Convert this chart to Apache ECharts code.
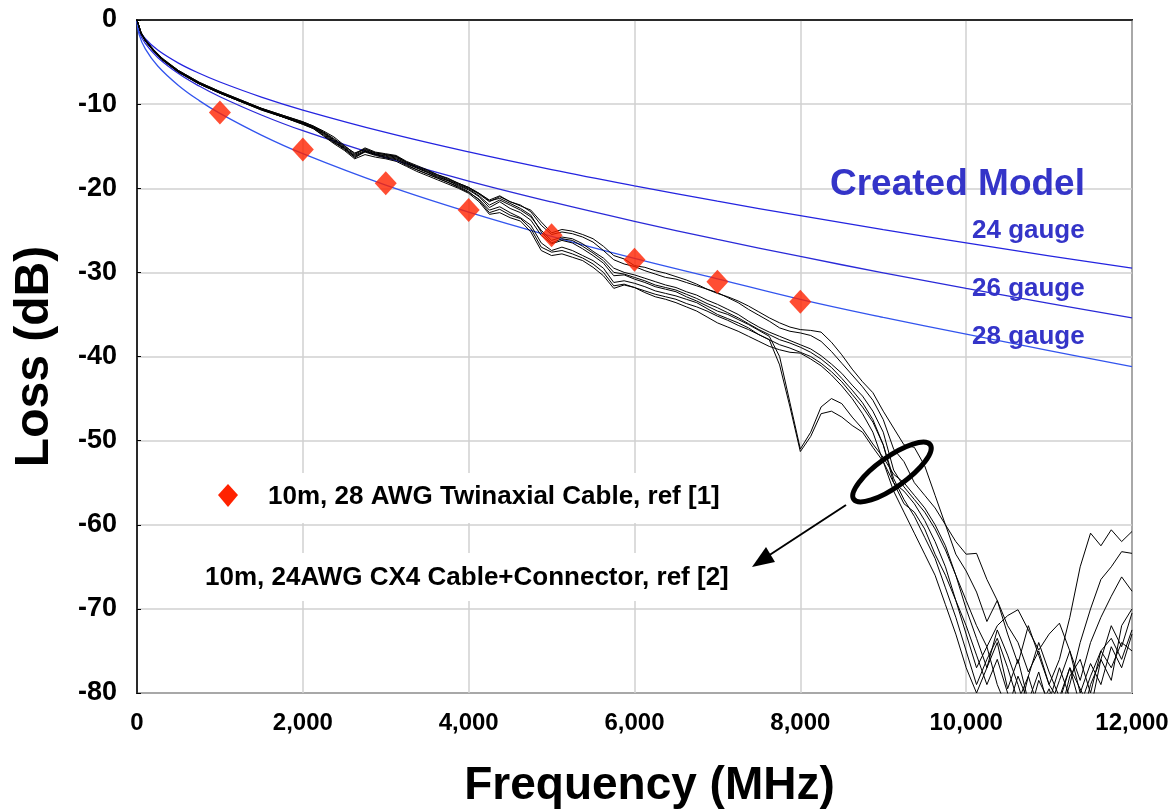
<!DOCTYPE html>
<html>
<head>
<meta charset="utf-8">
<script src="https://cdn.jsdelivr.net/npm/echarts@6/dist/echarts.min.js"></script>
<style>
  html, body { margin: 0; padding: 0; background: #fff; }
  #chart { width: 1174px; height: 809px; }
</style>
</head>
<body>
<div id="chart"></div>
<script>
// model curves (created model), loss in dB
const modelFreq = [0, 25, 100, 250, 500, 750, 1000, 1500, 2000, 3000, 4000, 5000, 6000, 7000, 8000, 9000, 10000, 11000, 12000]
const gauge24 = [0, -1.10, -2.23, -3.57, -5.12, -6.33, -7.37, -9.16, -10.70, -13.36, -15.68, -17.78, -19.71, -21.54, -23.26, -24.91, -26.50, -28.03, -29.50]
const gauge26 = [0, -1.38, -2.79, -4.45, -6.36, -7.85, -9.12, -11.29, -13.16, -16.36, -19.14, -21.63, -23.93, -26.08, -28.11, -30.05, -31.90, -33.69, -35.41]
const gauge28 = [0, -1.71, -3.44, -5.47, -7.78, -9.58, -11.10, -13.68, -15.89, -19.63, -22.84, -25.71, -28.33, -30.76, -33.20, -35.35, -37.35, -39.30, -41.20]

// ref [1] twinax points
const twinaxFreq = [1000, 2000, 3000, 4000, 5000, 6000, 7000, 8000]
const twinaxLoss = [-11.0, -15.4, -19.4, -22.6, -25.6, -28.5, -31.1, -33.5]

// ref [2] measured CX4 traces, shared frequency grid
const cx4Freq = [0, 50, 100, 200, 300, 500, 750, 1000, 1250, 1500, 1750, 2000,
  2125, 2250, 2375, 2500, 2625, 2750, 2875, 3000,
  3125, 3250, 3375, 3500, 3625, 3750, 3875, 4000,
  4125, 4250, 4375, 4500, 4625, 4750, 4875, 5000,
  5125, 5250, 5375, 5500, 5625, 5750, 5875, 6000,
  6125, 6250, 6375, 6500, 6625, 6750, 6875, 7000,
  7125, 7250, 7375, 7500, 7625, 7750, 7875, 8000,
  8125, 8250, 8375, 8500, 8625, 8750, 8875, 9000,
  9125, 9250, 9375, 9500, 9625, 9750, 9875, 10000,
  10125, 10250, 10375, 10500, 10625, 10750, 10875, 11000,
  11125, 11250, 11375, 11500, 11625, 11750, 11875, 12000]

const cx4T1 = [0, -1.6, -2.4, -3.6, -4.6, -6.1, -7.5, -8.6, -9.6, -10.6, -11.5, -12.3,
  -12.8, -13.5, -14.4, -15.3, -16.1, -15.5, -15.9, -16.2,
  -16.4, -17.1, -17.6, -18.1, -18.7, -19.1, -19.7, -20.2,
  -21.0, -22.3, -21.6, -22.4, -22.9, -23.8, -25.6, -26.6,
  -26.2, -26.5, -27.2, -28.0, -28.9, -30.4, -30.3, -30.8,
  -31.2, -31.7, -32.0, -32.3, -32.9, -33.4, -34.0, -34.6,
  -35.0, -35.6, -36.2, -36.9, -37.6, -40.0, -45.5, -51.0,
  -49.0, -46.0, -45.0, -45.6, -47.2, -48.6, -50.4, -52.0,
  -54.0, -55.0, -56.5, -58.0, -60.0, -62.5, -66.0, -70.0,
  -73.5, -77.0, -74.0, -79.5, -76.0, -81.0, -77.5, -82.0,
  -78.5, -75.0, -80.0, -76.5, -79.0, -74.5, -77.0, -73.0]
const cx4T2 = [0, -1.6, -2.5, -3.7, -4.7, -6.2, -7.6, -8.7, -9.7, -10.7, -11.5, -12.4,
  -12.9, -13.7, -14.6, -15.2, -16.4, -15.6, -16.0, -16.3,
  -16.5, -17.2, -17.8, -18.3, -18.8, -19.3, -19.9, -20.5,
  -21.3, -22.6, -22.2, -22.9, -23.5, -24.4, -26.5, -27.4,
  -27.0, -27.4, -28.0, -28.6, -29.5, -31.2, -31.0, -31.3,
  -31.7, -32.2, -32.5, -32.8, -33.2, -33.6, -34.3, -35.0,
  -35.5, -36.0, -36.6, -37.4, -38.0, -41.0, -46.0, -51.3,
  -49.5, -46.8, -46.5, -47.2, -48.2, -49.0, -50.8, -52.5,
  -55.0, -56.0, -57.5, -59.5, -62.0, -65.0, -69.0, -73.0,
  -77.0, -74.5, -79.0, -82.0, -78.0, -81.0, -85.0, -80.0,
  -83.0, -78.0, -76.0, -80.0, -75.0, -73.5, -76.0, -72.5]
const cx4T3 = [0, -1.5, -2.3, -3.5, -4.5, -6.0, -7.4, -8.5, -9.5, -10.5, -11.3, -12.1,
  -12.6, -13.2, -13.9, -14.9, -15.9, -15.2, -15.7, -15.9,
  -16.1, -16.8, -17.3, -17.8, -18.4, -18.8, -19.4, -19.9,
  -20.6, -21.4, -20.9, -21.6, -22.0, -22.8, -24.4, -25.5,
  -25.2, -25.4, -25.8, -26.4, -27.4, -28.5, -29.0, -29.3,
  -29.8, -30.2, -30.6, -30.8, -31.2, -31.6, -32.0, -32.5,
  -32.9, -33.4, -34.0, -34.7, -35.4, -36.0, -36.5, -36.8,
  -36.9, -37.1, -38.3, -39.8, -41.5, -43.0, -44.3, -46.5,
  -48.5, -50.5, -50.8, -53.0, -56.5, -60.0, -63.5, -65.5,
  -68.0, -71.5, -69.0, -73.0, -76.5, -72.0, -75.5, -79.0,
  -81.0, -77.0, -79.5, -82.0, -76.0, -72.0, -74.5, -70.5]
const cx4T4 = [0, -1.6, -2.4, -3.6, -4.6, -6.1, -7.5, -8.6, -9.6, -10.5, -11.4, -12.2,
  -12.7, -13.4, -14.2, -15.1, -16.0, -15.3, -15.8, -16.0,
  -16.2, -16.9, -17.5, -18.0, -18.5, -19.0, -19.5, -20.0,
  -20.7, -21.6, -21.0, -21.6, -22.1, -22.6, -24.0, -25.3,
  -24.9, -25.1, -25.5, -26.0, -26.9, -28.0, -28.4, -29.2,
  -29.4, -29.8, -30.1, -30.5, -30.9, -31.4, -32.0, -32.4,
  -33.0, -33.6, -34.4, -35.1, -35.8, -36.6, -37.0, -37.2,
  -37.5, -38.2, -39.4, -40.8, -42.2, -43.6, -45.2, -47.5,
  -51.0, -52.5, -55.0, -56.5, -58.0, -60.0, -62.0, -63.5,
  -63.4, -66.5, -69.0, -72.0, -74.0, -77.5, -75.0, -79.0,
  -76.0, -71.0, -65.0, -61.0, -62.5, -60.6, -62.0, -60.8]
const cx4T5 = [0, -1.7, -2.5, -3.7, -4.7, -6.2, -7.6, -8.7, -9.7, -10.6, -11.5, -12.3,
  -12.8, -13.6, -14.5, -15.4, -16.3, -15.7, -16.1, -16.4,
  -16.6, -17.3, -17.8, -18.3, -18.8, -19.3, -19.8, -20.4,
  -21.4, -22.9, -22.5, -23.2, -23.6, -24.8, -27.0, -27.6,
  -27.4, -27.8, -28.3, -29.0, -30.0, -31.6, -31.4, -31.8,
  -32.2, -32.6, -32.9, -33.2, -33.7, -34.1, -34.6, -35.2,
  -35.7, -36.3, -36.8, -37.4, -38.0, -38.6, -39.0, -39.5,
  -40.0, -40.8, -41.8, -43.0, -44.5, -46.0, -47.8, -50.5,
  -54.5, -57.0, -59.0, -61.5, -64.0, -67.5, -71.0, -75.0,
  -79.0, -76.0, -73.5, -77.0, -81.0, -78.0, -82.0, -79.5,
  -83.0, -79.0, -74.0, -70.0, -66.5, -65.0, -63.2, -63.4]
const cx4T6 = [0, -1.6, -2.4, -3.6, -4.6, -6.1, -7.5, -8.6, -9.6, -10.6, -11.4, -12.2,
  -12.7, -13.4, -14.3, -15.2, -16.2, -15.6, -16.0, -16.1,
  -16.3, -17.0, -17.6, -18.1, -18.6, -19.1, -19.6, -20.1,
  -20.9, -22.0, -21.4, -22.0, -22.6, -23.4, -25.0, -26.2,
  -25.8, -26.0, -26.6, -27.5, -28.3, -29.5, -30.0, -30.3,
  -30.7, -31.1, -31.5, -31.8, -32.3, -32.7, -33.3, -33.8,
  -34.4, -35.0, -35.8, -36.5, -37.1, -37.6, -38.1, -38.6,
  -39.1, -39.9, -40.9, -42.0, -43.4, -44.7, -46.5, -49.0,
  -53.5, -55.5, -57.0, -58.5, -60.5, -63.0, -66.0, -69.0,
  -72.0, -74.5, -72.0, -70.8, -70.1, -72.5, -74.9, -73.0,
  -71.7, -75.0, -78.5, -74.0, -71.0, -68.5, -66.2, -67.9]
const cx4T7 = [0, -1.6, -2.5, -3.7, -4.7, -6.2, -7.6, -8.7, -9.7, -10.7, -11.5, -12.4,
  -12.9, -13.8, -14.7, -15.5, -16.5, -16.0, -16.3, -16.5,
  -16.8, -17.4, -18.0, -18.5, -19.0, -19.5, -20.0, -20.6,
  -21.6, -23.1, -22.9, -23.5, -23.9, -25.2, -27.4, -28.0,
  -27.8, -28.2, -28.6, -29.4, -30.4, -31.9, -31.5, -31.8,
  -32.4, -32.9, -33.2, -33.6, -34.1, -34.6, -35.3, -36.0,
  -36.5, -37.0, -37.6, -38.2, -38.8, -39.2, -39.5, -39.6,
  -40.3, -41.1, -42.2, -43.5, -45.0, -46.8, -49.0, -52.5,
  -56.0, -58.5, -61.0, -63.5, -66.0, -69.5, -73.0, -77.0,
  -80.0, -77.0, -72.5, -75.5, -79.0, -83.0, -78.5, -81.0,
  -77.0, -80.5, -84.0, -79.0, -76.0, -78.5, -72.0, -70.0]
const cx4T8 = [0, -1.5, -2.4, -3.6, -4.6, -6.0, -7.4, -8.5, -9.5, -10.5, -11.3, -12.1,
  -12.6, -13.3, -14.1, -15.0, -15.8, -15.4, -15.8, -16.0,
  -16.2, -16.9, -17.4, -17.9, -18.4, -18.9, -19.4, -19.9,
  -20.6, -21.5, -21.2, -21.8, -22.4, -23.2, -25.2, -26.5,
  -26.0, -26.2, -26.9, -27.7, -28.6, -30.0, -30.2, -30.6,
  -31.0, -31.5, -31.8, -32.1, -32.6, -33.1, -33.7, -34.2,
  -34.8, -35.4, -36.1, -36.8, -37.4, -38.0, -38.4, -38.9,
  -39.5, -40.3, -41.3, -42.6, -44.0, -45.5, -47.5, -50.5,
  -55.0, -57.5, -58.5, -60.5, -63.5, -66.0, -69.0, -72.0,
  -75.5, -79.0, -76.0, -80.0, -83.0, -78.0, -74.0, -77.5,
  -80.5, -77.0, -81.5, -78.0, -75.0, -77.0, -74.0, -75.0]

const cx4Traces = [cx4T1, cx4T2, cx4T3, cx4T4, cx4T5, cx4T6, cx4T7, cx4T8]

const xTicks = [0, 2000, 4000, 6000, 8000, 10000, 12000]

const chart = echarts.init(document.getElementById('chart'))
const FONT = '"Liberation Sans", Arial, sans-serif'
const BLUE_TXT = '#3434c8'

const zip = (xs, ys) => xs.map((x, i) => [x, ys[i]])

const modelSeries = [
  { name: '24 gauge', data: gauge24, color: '#2424e0' },
  { name: '26 gauge', data: gauge26, color: '#2a2ad8' },
  { name: '28 gauge', data: gauge28, color: '#3355ee' }
].map(s => ({
  name: s.name,
  type: 'line',
  smooth: 0.4,
  symbol: 'none',
  data: zip(modelFreq, s.data),
  lineStyle: { color: s.color, width: 1.3 },
  z: 2
}))

const cx4Series = cx4Traces.map((t, i) => ({
  name: 'cx4-' + (i + 1),
  type: 'line',
  symbol: 'none',
  data: zip(cx4Freq, t),
  lineStyle: { color: '#000', width: 1 },
  z: 3
}))

const option = {
  animation: false,
  backgroundColor: '#fff',
  grid: {
    left: 137, right: 42, top: 20, bottom: 116,
    containLabel: false,
    outerBoundsMode: 'none',
    show: true, borderColor: '#333', borderWidth: 2
  },
  xAxis: {
    type: 'value',
    min: 0, max: 12000, interval: 2000,
    name: 'Frequency (MHz)',
    nameLocation: 'middle',
    nameGap: 70,
    nameTextStyle: { fontFamily: FONT, fontWeight: 'bold', fontSize: 46, color: '#000', padding: [0, 0, 0, 30] },
    axisLine: { lineStyle: { color: '#000', width: 1.5 } },
    axisTick: { show: false },
    axisLabel: {
      margin: 18,
      fontFamily: FONT, fontWeight: 'bold', fontSize: 24, color: '#000',
      formatter: v => xTicks.includes(v) ? v.toLocaleString('en-US') : ''
    },
    splitLine: { show: true, lineStyle: { color: '#d0d0d0', width: 1.5 } }
  },
  yAxis: {
    type: 'value',
    min: -80, max: 0, interval: 10,
    name: 'Loss (dB)',
    nameLocation: 'middle',
    nameRotate: 90,
    nameGap: 78,
    nameTextStyle: { fontFamily: FONT, fontWeight: 'bold', fontSize: 48, color: '#000' },
    axisLine: { lineStyle: { color: '#000', width: 1.5 } },
    axisTick: { show: true, inside: true, length: 4, lineStyle: { color: '#000' } },
    axisLabel: { margin: 20, fontFamily: FONT, fontWeight: 'bold', fontSize: 27, color: '#000' },
    splitLine: { show: true, lineStyle: { color: '#d0d0d0', width: 1.5 } }
  },
  series: [
    ...modelSeries,
    ...cx4Series,
    {
      name: '10m, 28 AWG Twinaxial Cable, ref [1]',
      type: 'scatter',
      symbol: 'diamond',
      symbolSize: [22, 24],
      data: zip(twinaxFreq, twinaxLoss),
      itemStyle: { color: '#ff2200' },
      z: 5
    }
  ],
  graphic: [
    // white boxes behind the two notes
    { type: 'rect', shape: { x: 200, y: 473, width: 560, height: 50 }, style: { fill: '#fff' }, z: 10 },
    { type: 'rect', shape: { x: 195, y: 553, width: 560, height: 48 }, style: { fill: '#fff' }, z: 10 },
    { type: 'polygon', shape: { points: [[228, 484], [238, 495], [228, 507], [218, 495]] }, style: { fill: '#ff2200' }, z: 11 },
    { type: 'text', x: 268, y: 497, style: { text: '10m, 28 AWG Twinaxial Cable, ref [1]', font: 'bold 26px ' + FONT, fill: '#000', textVerticalAlign: 'middle' }, z: 11 },
    { type: 'text', x: 205, y: 578, style: { text: '10m, 24AWG CX4 Cable+Connector, ref [2]', font: 'bold 26px ' + FONT, fill: '#000', textVerticalAlign: 'middle' }, z: 11 },
    // ellipse + arrow pointing at the measured traces
    { type: 'ellipse', x: 892, y: 472, rotation: 0.62, shape: { cx: 0, cy: 0, rx: 47, ry: 15 }, style: { fill: 'none', stroke: '#000', lineWidth: 5 }, z: 11 },
    { type: 'line', shape: { x1: 846, y1: 505, x2: 768, y2: 556 }, style: { stroke: '#000', lineWidth: 2 }, z: 11 },
    { type: 'polygon', shape: { points: [[752, 567], [775, 562], [766, 547]] }, style: { fill: '#000' }, z: 11 },
    // model labels
    { type: 'text', x: 830, y: 185, style: { text: 'Created Model', font: 'bold 37px ' + FONT, fill: BLUE_TXT, textVerticalAlign: 'middle' }, z: 11 },
    { type: 'text', x: 972, y: 231, style: { text: '24 gauge', font: 'bold 26px ' + FONT, fill: BLUE_TXT, textVerticalAlign: 'middle' }, z: 11 },
    { type: 'text', x: 972, y: 289, style: { text: '26 gauge', font: 'bold 26px ' + FONT, fill: BLUE_TXT, textVerticalAlign: 'middle' }, z: 11 },
    { type: 'text', x: 972, y: 337, style: { text: '28 gauge', font: 'bold 26px ' + FONT, fill: BLUE_TXT, textVerticalAlign: 'middle' }, z: 11 }
  ]
}

chart.setOption(option)
</script>
</body>
</html>
